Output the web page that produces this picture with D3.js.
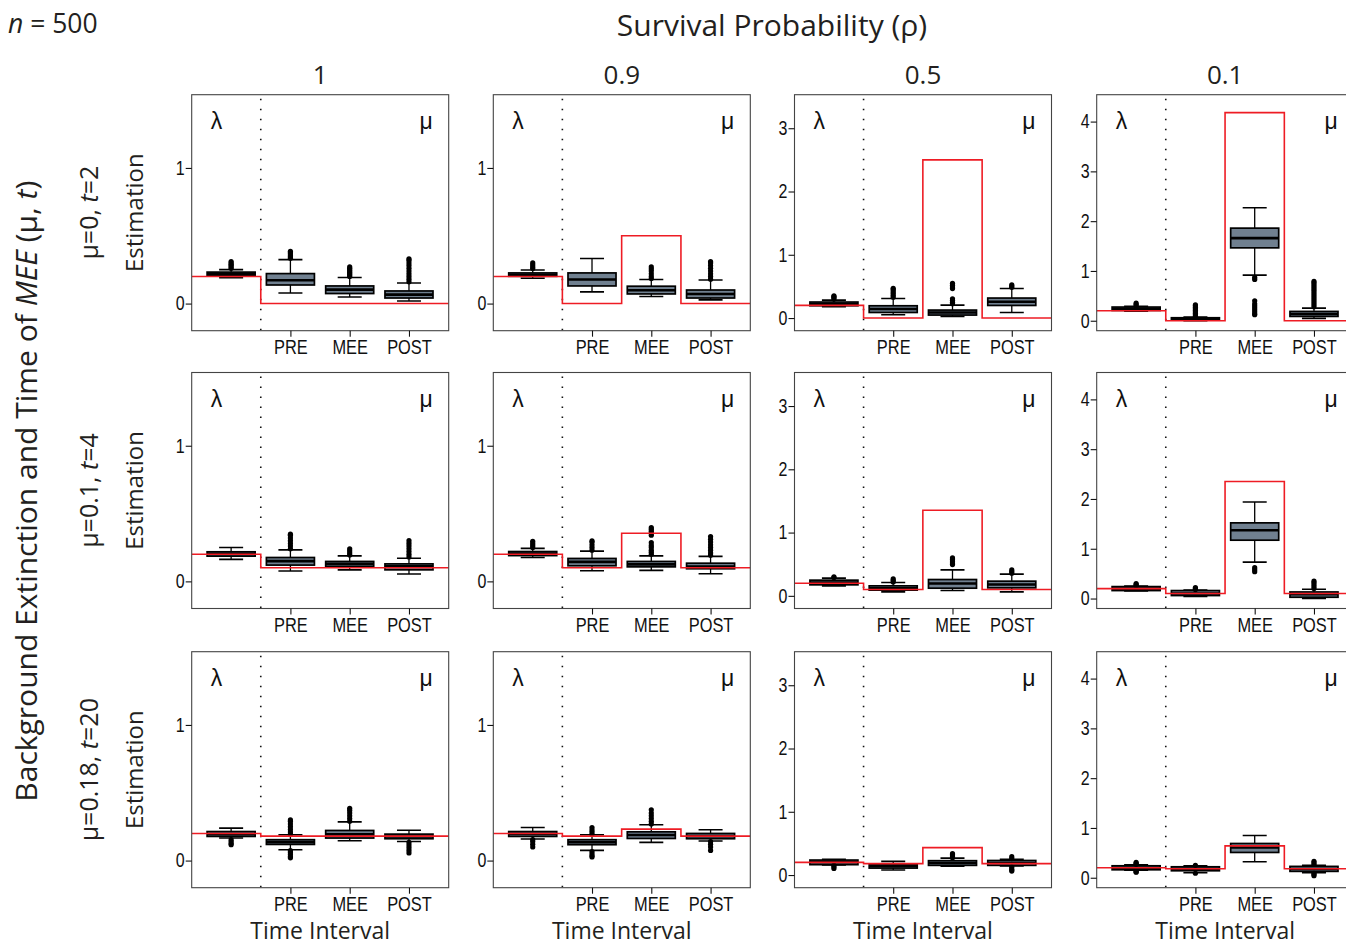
<!DOCTYPE html>
<html>
<head>
<meta charset="utf-8">
<script src="https://cdn.jsdelivr.net/npm/d3@7"></script>
<style>
  body { margin: 0; background: #fff; }
  svg { display: block; }
  .lab { font-family: "Open Sans", sans-serif; fill: #231f20; }
  .tick text { font-family: "Liberation Sans", "Arial", sans-serif; fill: #111; }
  .greek { font-family: "Liberation Sans", sans-serif; fill: #111; }
</style>
</head>
<body>
<svg id="chart" width="1346" height="946"></svg>
<script>
const rhoLabels = ["1", "0.9", "0.5", "0.1"];
const rowMu = ["0", "0.1", "0.18"];
const rowT = ["2", "4", "20"];
const categories = ["λ", "PRE", "MEE", "POST"];
const yTop = [1.54, 1.54, 3.53, 4.54];
const yTickVals = [[0, 1], [0, 1], [0, 1, 2, 3], [0, 1, 2, 3, 4]];

// true values (red step line)
const trueLambda = 0.2;
const trueMuOther = [0, 0.1, 0.18];
const trueMuMEE = [
  [0, 0.5, 2.5, 4.18],
  [0.1, 0.355, 1.354, 2.352],
  [0.18, 0.232, 0.433, 0.64]
];

// [lower whisker, q1, median, q3, upper whisker] for λ, PRE, MEE, POST
const boxStats = [
  [ // mu=0, t=2
    [[0.19, 0.205, 0.22, 0.232, 0.25], [0.078, 0.137, 0.172, 0.221, 0.324], [0.049, 0.074, 0.103, 0.13, 0.192], [0.019, 0.041, 0.066, 0.093, 0.152]],
    [[0.187, 0.201, 0.212, 0.226, 0.248], [0.086, 0.13, 0.177, 0.226, 0.332], [0.052, 0.071, 0.098, 0.128, 0.177], [0.027, 0.041, 0.071, 0.1, 0.174]],
    [[0.18, 0.194, 0.22, 0.253, 0.284], [0.052, 0.088, 0.142, 0.194, 0.31], [0.025, 0.047, 0.088, 0.126, 0.205], [0.088, 0.199, 0.257, 0.316, 0.468]],
    [[0.19, 0.207, 0.24, 0.275, 0.29], [0.0, 0.02, 0.035, 0.06, 0.074], [0.917, 1.464, 1.66, 1.86, 2.27], [0.047, 0.087, 0.134, 0.187, 0.254]]
  ],
  [ // mu=0.1, t=4
    [[0.162, 0.186, 0.203, 0.218, 0.25], [0.076, 0.12, 0.149, 0.176, 0.232], [0.085, 0.11, 0.129, 0.147, 0.188], [0.054, 0.085, 0.112, 0.129, 0.171]],
    [[0.176, 0.19, 0.205, 0.22, 0.243], [0.078, 0.115, 0.144, 0.169, 0.223], [0.081, 0.107, 0.125, 0.147, 0.188], [0.056, 0.093, 0.11, 0.134, 0.184]],
    [[0.158, 0.174, 0.21, 0.248, 0.28], [0.063, 0.09, 0.12, 0.158, 0.21], [0.084, 0.121, 0.195, 0.258, 0.41], [0.063, 0.126, 0.179, 0.232, 0.343]],
    [[0.15, 0.16, 0.2, 0.24, 0.25], [0.04, 0.06, 0.1, 0.16, 0.172], [0.732, 1.172, 1.372, 1.52, 1.94], [0.0, 0.026, 0.086, 0.132, 0.186]]
  ],
  [ // mu=0.18, t=20
    [[0.166, 0.178, 0.195, 0.214, 0.239], [0.08, 0.119, 0.136, 0.154, 0.19], [0.146, 0.166, 0.193, 0.222, 0.285], [0.141, 0.161, 0.178, 0.195, 0.224]],
    [[0.159, 0.178, 0.197, 0.214, 0.244], [0.075, 0.117, 0.135, 0.154, 0.19], [0.134, 0.163, 0.188, 0.212, 0.264], [0.144, 0.161, 0.18, 0.2, 0.227]],
    [[0.16, 0.164, 0.205, 0.237, 0.25], [0.079, 0.11, 0.142, 0.174, 0.216], [0.14, 0.153, 0.19, 0.227, 0.268], [0.142, 0.153, 0.19, 0.23, 0.248]],
    [[0.15, 0.16, 0.2, 0.24, 0.26], [0.1, 0.14, 0.18, 0.22, 0.24], [0.32, 0.508, 0.608, 0.688, 0.848], [0.1, 0.128, 0.175, 0.228, 0.25]]
  ]
];

const outliers = [
  [
    [[0.26, 0.27, 0.28, 0.29, 0.3, 0.31], [0.335, 0.345, 0.355, 0.365, 0.375, 0.385], [0.2, 0.21, 0.22, 0.23, 0.24, 0.25, 0.26, 0.27], [0.16, 0.18, 0.2, 0.22, 0.24, 0.26, 0.28, 0.3, 0.32, 0.33]],
    [[0.258, 0.27, 0.285, 0.3], [], [0.184, 0.2, 0.22, 0.24, 0.255, 0.27], [0.18, 0.2, 0.22, 0.24, 0.26, 0.28, 0.3, 0.31]],
    [[0.3, 0.32, 0.34, 0.35], [0.33, 0.36, 0.39, 0.42, 0.45, 0.47], [0.226, 0.25, 0.28, 0.305, 0.465, 0.49, 0.52, 0.55], [0.485, 0.505, 0.525]],
    [[0.3, 0.33, 0.355], [0.09, 0.12, 0.15, 0.18, 0.21, 0.24, 0.27, 0.3, 0.32], [0.87, 0.83, 0.4, 0.34, 0.3, 0.26, 0.22, 0.18, 0.14, 0.12], [0.28, 0.32, 0.36, 0.4, 0.44, 0.48, 0.52, 0.56, 0.6, 0.64, 0.68, 0.72, 0.76, 0.79]]
  ],
  [
    [[], [0.24, 0.26, 0.28, 0.3, 0.32, 0.34, 0.348], [0.195, 0.21, 0.225, 0.24], [0.18, 0.2, 0.22, 0.24, 0.26, 0.28, 0.3]],
    [[0.25, 0.265, 0.28, 0.295], [0.23, 0.25, 0.27, 0.29, 0.298], [0.2, 0.215, 0.23, 0.25, 0.265, 0.285, 0.34, 0.355, 0.37, 0.385, 0.397], [0.193, 0.21, 0.23, 0.25, 0.27, 0.29, 0.31, 0.33]],
    [[0.29, 0.3], [0.22, 0.245, 0.27], [0.495, 0.52, 0.55, 0.575, 0.6], [0.358, 0.385, 0.41]],
    [[0.26, 0.28, 0.3], [0.18, 0.2, 0.22], [0.54, 0.58, 0.62], [0.2, 0.24, 0.28, 0.32, 0.352]]
  ],
  [
    [[0.154, 0.14, 0.125, 0.117], [0.195, 0.21, 0.23, 0.25, 0.27, 0.29, 0.3, 0.073, 0.06, 0.045, 0.03, 0.02], [0.29, 0.31, 0.33, 0.35, 0.37, 0.385], [0.134, 0.115, 0.095, 0.075, 0.056]],
    [[0.155, 0.14, 0.12, 0.1], [0.195, 0.21, 0.225, 0.244, 0.066, 0.05, 0.035, 0.027], [0.27, 0.29, 0.31, 0.33, 0.35, 0.374], [0.14, 0.12, 0.1, 0.075]],
    [[0.155, 0.13, 0.105], [], [0.274, 0.3, 0.32, 0.338], [0.26, 0.29, 0.13, 0.1, 0.08, 0.063]],
    [[0.27, 0.29, 0.31, 0.14, 0.12, 0.11], [0.25, 0.09], [], [0.27, 0.3, 0.33, 0.09, 0.065, 0.04]]
  ]
];

const W = 257, H = 236;
const colLeft = [191.7, 493.3, 794.5, 1096.7];
const rowTop = [94.7, 372.5, 651.7];
const narrow = 0.8;

const svg = d3.select("#chart");
const defs = svg.append("defs");

const x = d3.scaleLinear().domain([0.335, 4.67]).range([0, W]);
const boxHalf = x(1.405) - x(1);
const capHalf = boxHalf / 2;

rowTop.forEach((top, r) => {
  colLeft.forEach((left, c) => {
    const y = d3.scaleLinear().domain([-0.2, yTop[c]]).range([H, 0]);
    const g = svg.append("g").attr("transform", `translate(${left},${top})`);
    const clipId = `clip-${r}-${c}`;
    defs.append("clipPath").attr("id", clipId)
      .append("rect").attr("width", W).attr("height", H);

    const plot = g.append("g").attr("clip-path", `url(#${clipId})`);

    // dotted divider between lambda and mu
    plot.append("line")
      .attr("x1", x(1.5)).attr("x2", x(1.5))
      .attr("y1", 4).attr("y2", H)
      .attr("stroke", "#111").attr("stroke-width", 1.6)
      .attr("stroke-dasharray", "1.6 8.4");

    boxStats[r][c].forEach((s, i) => {
      const [lo, q1, med, q3, hi] = s;
      const cx = x(i + 1);
      const bg = plot.append("g");
      bg.append("line").attr("x1", cx).attr("x2", cx).attr("y1", y(q3)).attr("y2", y(hi))
        .attr("stroke", "#000").attr("stroke-width", 1.3);
      bg.append("line").attr("x1", cx).attr("x2", cx).attr("y1", y(q1)).attr("y2", y(lo))
        .attr("stroke", "#000").attr("stroke-width", 1.3);
      [lo, hi].forEach(v => {
        bg.append("line").attr("x1", cx - capHalf).attr("x2", cx + capHalf)
          .attr("y1", y(v)).attr("y2", y(v))
          .attr("stroke", "#000").attr("stroke-width", 1.6);
      });
      bg.append("rect")
        .attr("x", cx - boxHalf).attr("width", boxHalf * 2)
        .attr("y", y(q3)).attr("height", Math.max(1, y(q1) - y(q3)))
        .attr("fill", "#708090").attr("stroke", "#000").attr("stroke-width", 1.7);
      bg.append("line").attr("x1", cx - boxHalf).attr("x2", cx + boxHalf)
        .attr("y1", y(med)).attr("y2", y(med))
        .attr("stroke", "#000").attr("stroke-width", 2.6);
      bg.selectAll("circle").data(outliers[r][c][i]).enter().append("circle")
        .attr("cx", cx).attr("cy", d => y(d)).attr("r", 2.6).attr("fill", "#000");
    });

    // true value step line
    const pre = trueMuOther[r], mee = trueMuMEE[r][c], post = trueMuOther[r];
    const stepPts = [[x.domain()[0], trueLambda], [1.5, pre], [2.5, mee], [3.5, post], [x.domain()[1], post]];
    plot.append("path")
      .attr("d", d3.line().x(d => x(d[0])).y(d => y(d[1])).curve(d3.curveStepAfter)(stepPts))
      .attr("fill", "none").attr("stroke", "#ee1c24").attr("stroke-width", 1.6);

    g.append("text").attr("class", "greek").attr("x", 19).attr("y", 34)
      .attr("font-size", 23).text("λ");
    g.append("text").attr("class", "greek").attr("x", W - 16).attr("y", 34)
      .attr("text-anchor", "end").attr("font-size", 23).text("μ");

    g.append("rect").attr("width", W).attr("height", H)
      .attr("fill", "none").attr("stroke", "#444").attr("stroke-width", 1.1);

    const ya = g.append("g")
      .call(d3.axisLeft(y).tickValues(yTickVals[c]).tickFormat(d3.format("d")).tickSize(6).tickSizeOuter(0).tickPadding(1));
    ya.select(".domain").remove();
    ya.selectAll(".tick text").attr("font-size", 20)
      .attr("x", -7 / narrow).attr("transform", `scale(${narrow},1)`);
    ya.selectAll(".tick line").attr("stroke", "#111").attr("stroke-width", 1.1);

    const xa = g.append("g").attr("transform", `translate(0,${H})`)
      .call(d3.axisBottom(x).tickValues([2, 3, 4]).tickFormat(d => categories[d - 1]).tickSize(6).tickSizeOuter(0).tickPadding(3));
    xa.select(".domain").remove();
    xa.selectAll(".tick text").attr("font-size", 20.5).attr("transform", `scale(${narrow},1)`);
    xa.selectAll(".tick line").attr("stroke", "#111").attr("stroke-width", 1.1);

    if (r === 0) {
      svg.append("text").attr("class", "lab").attr("x", left + W / 2).attr("y", 83.5)
        .attr("text-anchor", "middle").attr("font-size", 26).text(rhoLabels[c]);
    }
    if (r === rowTop.length - 1) {
      svg.append("text").attr("class", "lab").attr("x", left + W / 2).attr("y", 939)
        .attr("text-anchor", "middle").attr("font-size", 23).text("Time Interval");
    }
    if (c === 0) {
      const cy = top + H / 2;
      const rl = svg.append("text").attr("class", "lab")
        .attr("transform", `translate(98,${cy}) rotate(-90)`)
        .attr("text-anchor", "middle").attr("font-size", 25);
      rl.append("tspan").text(`μ=${rowMu[r]}, `);
      rl.append("tspan").attr("font-style", "italic").text("t");
      rl.append("tspan").text(`=${rowT[r]}`);
      svg.append("text").attr("class", "lab")
        .attr("transform", `translate(143,${cy}) rotate(-90)`)
        .attr("text-anchor", "middle").attr("font-size", 24).text("Estimation");
    }
  });
});

// global titles
const nt = svg.append("text").attr("class", "lab").attr("x", 8).attr("y", 33).attr("font-size", 26.5);
nt.append("tspan").attr("font-style", "italic").text("n");
nt.append("tspan").text(" = 500");

svg.append("text").attr("class", "lab").attr("x", 772).attr("y", 36)
  .attr("text-anchor", "middle").attr("font-size", 30).text("Survival Probability (ρ)");

const bt = svg.append("text").attr("class", "lab")
  .attr("transform", `translate(37,${(rowTop[0] + rowTop[2] + H) / 2}) rotate(-90)`)
  .attr("text-anchor", "middle").attr("font-size", 30);
bt.append("tspan").text("Background Extinction and Time of ");
bt.append("tspan").attr("font-style", "italic").text("MEE");
bt.append("tspan").text(" (μ, ");
bt.append("tspan").attr("font-style", "italic").text("t");
bt.append("tspan").text(")");
</script>
</body>
</html>
